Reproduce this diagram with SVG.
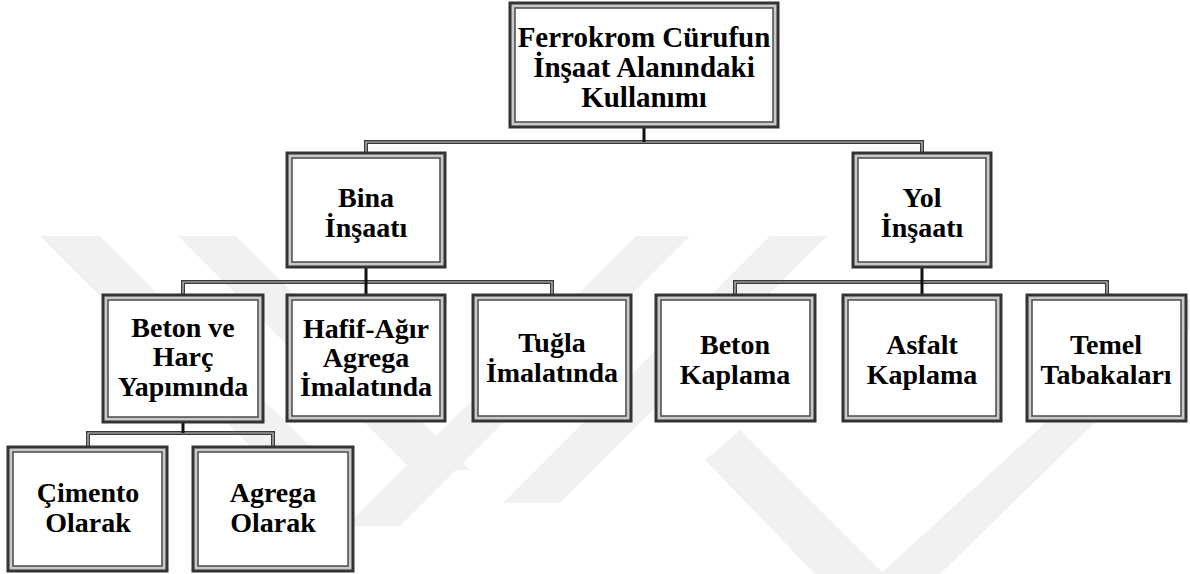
<svg xmlns="http://www.w3.org/2000/svg" width="1190" height="574" viewBox="0 0 1190 574">
<style>
.wm{fill:#f1f1f1}
.frame{fill:#c9c9c9;stroke:#333;stroke-width:3}
.inner{fill:#fff;stroke:#4a4a4a;stroke-width:1.5}
.bar{fill:none;stroke:#3a3a3a;stroke-width:4}
.barin{fill:none;stroke:#c8c8c8;stroke-width:1.2}
.stem{fill:none;stroke:#111;stroke-width:3}
text{font-family:"Liberation Serif","Times New Roman",serif;font-weight:bold;font-size:28px;fill:#000;text-anchor:middle}
.big{font-size:29px}
</style>
<rect width="1190" height="574" fill="#fff"/>
<g id="watermark">
<polygon class="wm" points="40,236 100,236 344,480 284,480"/>
<polygon class="wm" points="178,236 236,236 470,470 412,470"/>
<polygon class="wm" points="636,236 690,236 400,526 346,526"/>
<polygon class="wm" points="770,236 827,236 560,503 503,503"/>
<polygon class="wm" points="705,460 740,430 884,574 815,574"/>
<polygon class="wm" points="1180,300 1190,300 1190,330 940,574 880,574"/>
</g>
<g id="connectors">
<path class="bar" d="M366,153V142H922V153"/>
<path class="barin" d="M366,153V142H922V153"/>
<path class="stem" d="M644,127V142"/>
<path class="bar" d="M183,295V282H552V295"/>
<path class="barin" d="M183,295V282H552V295"/>
<path class="stem" d="M366,267V295"/>
<path class="bar" d="M735,295V282H1107V295"/>
<path class="barin" d="M735,295V282H1107V295"/>
<path class="stem" d="M922,267V295"/>
<path class="bar" d="M88,447V433H273V447"/>
<path class="barin" d="M88,447V433H273V447"/>
<path class="stem" d="M183,422V433"/>
</g>
<g id="n-root"><rect class="frame" x="510" y="3" width="268" height="124"/><rect class="inner" x="515" y="8" width="258" height="114"/>
<text class="big" x="644" y="47">Ferrokrom Cürufun</text><text class="big" x="644" y="77">İnşaat Alanındaki</text><text class="big" x="644" y="107">Kullanımı</text></g>
<g id="n-bina"><rect class="frame" x="287" y="153" width="158" height="114"/><rect class="inner" x="292" y="158" width="148" height="104"/>
<text x="366" y="207">Bina</text><text x="366" y="237">İnşaatı</text></g>
<g id="n-yol"><rect class="frame" x="853" y="153" width="138" height="114"/><rect class="inner" x="858" y="158" width="128" height="104"/>
<text x="922" y="207">Yol</text><text x="922" y="237">İnşaatı</text></g>
<g id="n-betonharc"><rect class="frame" x="103" y="295" width="160" height="127"/><rect class="inner" x="108" y="300" width="150" height="117"/>
<text x="183" y="337">Beton ve</text><text x="183" y="366">Harç</text><text x="183" y="396">Yapımında</text></g>
<g id="n-hafif"><rect class="frame" x="287" y="295" width="158" height="126"/><rect class="inner" x="292" y="300" width="148" height="116"/>
<text x="366" y="338">Hafif-Ağır</text><text x="366" y="367">Agrega</text><text x="366" y="396">İmalatında</text></g>
<g id="n-tugla"><rect class="frame" x="473" y="295" width="158" height="126"/><rect class="inner" x="478" y="300" width="148" height="116"/>
<text x="552" y="352">Tuğla</text><text x="552" y="382">İmalatında</text></g>
<g id="n-betonkaplama"><rect class="frame" x="656" y="295" width="159" height="126"/><rect class="inner" x="661" y="300" width="149" height="116"/>
<text x="735" y="354">Beton</text><text x="735" y="384">Kaplama</text></g>
<g id="n-asfalt"><rect class="frame" x="843" y="295" width="158" height="126"/><rect class="inner" x="848" y="300" width="148" height="116"/>
<text x="922" y="354">Asfalt</text><text x="922" y="384">Kaplama</text></g>
<g id="n-temel"><rect class="frame" x="1027" y="295" width="159" height="126"/><rect class="inner" x="1032" y="300" width="149" height="116"/>
<text x="1106" y="354">Temel</text><text x="1106" y="384">Tabakaları</text></g>
<g id="n-cimento"><rect class="frame" x="8" y="447" width="159" height="124"/><rect class="inner" x="13" y="452" width="149" height="114"/>
<text x="88" y="502">Çimento</text><text x="88" y="532">Olarak</text></g>
<g id="n-agrega"><rect class="frame" x="193" y="447" width="160" height="124"/><rect class="inner" x="198" y="452" width="150" height="114"/>
<text x="273" y="502">Agrega</text><text x="273" y="532">Olarak</text></g>
</svg>
